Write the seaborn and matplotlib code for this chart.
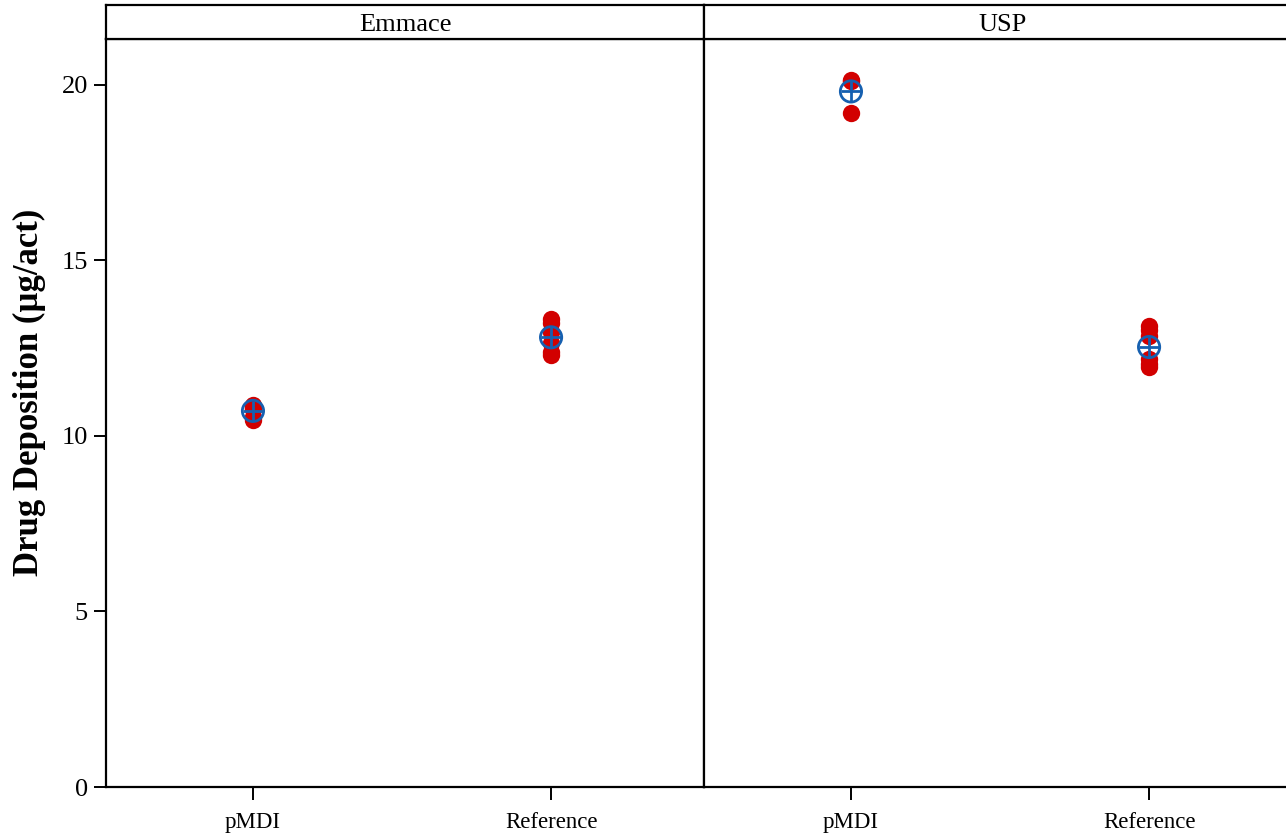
import matplotlib
matplotlib.use("Agg")
import matplotlib.pyplot as plt
import seaborn as sns
import pandas as pd

sns.set_theme(style="white")
plt.rcParams["font.family"] = ["Liberation Serif", "DejaVu Serif"]
plt.rcParams["text.color"] = "black"
plt.rcParams["axes.labelcolor"] = "black"

# Replicate drug deposition measurements (µg/act) per method and device
methods = ["Emmace", "USP"]
devices = ["pMDI", "Reference"]
emmace_pmdi = [10.87, 10.85, 10.80, 10.75, 10.55, 10.44]
emmace_reference = [13.34, 13.20, 12.95, 12.65, 12.40, 12.29]
usp_pmdi = [20.12, 20.10, 19.20]
usp_reference = [13.12, 13.00, 12.85, 12.20, 12.05, 11.95]

values = {
    ("Emmace", "pMDI"): emmace_pmdi,
    ("Emmace", "Reference"): emmace_reference,
    ("USP", "pMDI"): usp_pmdi,
    ("USP", "Reference"): usp_reference,
}
rows = [(m, d, v) for (m, d), vals in values.items() for v in vals]
df = pd.DataFrame(rows, columns=["method", "device", "deposition"])

red = "#d20000"
blue = "#1660b0"

W, H = 1286, 835
fig = plt.figure(figsize=(W / 100, H / 100), dpi=100)

panel_left = [106, 704]
panel_w = 598
top_px, bottom_px, strip_top = 39, 787, 5

for i, method in enumerate(methods):
    x0 = panel_left[i] / W
    ax = fig.add_axes([x0, 1 - bottom_px / H, panel_w / W, (bottom_px - top_px) / H])
    sub = df[df["method"] == method]
    sns.stripplot(data=sub, x="device", y="deposition", order=devices,
                  jitter=False, color=red, size=12.5, linewidth=0, ax=ax, zorder=2)
    means = sub.groupby("device", sort=False)["deposition"].mean().reindex(devices).reset_index()
    sns.scatterplot(data=means, x="device", y="deposition", marker="o", s=235,
                    facecolor="none", edgecolor=blue, linewidth=2.0, ax=ax, zorder=3)
    sns.scatterplot(data=means, x="device", y="deposition", marker="+", s=200,
                    color=blue, linewidth=2.0, ax=ax, zorder=4)
    ax.set_xlim(-0.493, 1.513)
    ax.set_ylim(0, 21.3)
    ax.set_xlabel("")
    for s in ax.spines.values():
        s.set_color("black")
        s.set_linewidth(1.6)
    ax.tick_params(axis="both", direction="out", length=9, width=1.4, color="black",
                   labelcolor="black", bottom=True, left=(i == 0), pad=4)
    ax.tick_params(axis="x", labelsize=16.5, pad=9)
    ax.tick_params(axis="y", labelsize=19)
    ax.set_yticks([0, 5, 10, 15, 20])
    if i == 0:
        ax.set_ylabel("Drug Deposition (µg/act)", fontsize=25, fontweight="bold",
                      color="black")
        ax.yaxis.set_label_coords(-0.100, 0.527)
    else:
        ax.set_ylabel("")
        ax.set_yticklabels([])

    # facet strip above the panel
    sax = fig.add_axes([x0, 1 - top_px / H, panel_w / W, (top_px - strip_top) / H])
    sax.set_xticks([])
    sax.set_yticks([])
    sax.set_facecolor("white")
    for s in sax.spines.values():
        s.set_color("black")
        s.set_linewidth(1.6)
    sax.text(0.5, 0.42, method, ha="center", va="center", fontsize=19,
             color="black", transform=sax.transAxes)

fig.savefig("out.png", dpi=100, facecolor="white")
